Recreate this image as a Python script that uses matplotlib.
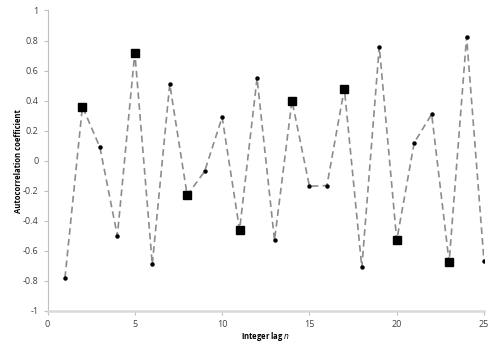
import matplotlib.pyplot as plt
import numpy as np

# autocorrelation coefficient per integer lag
lags = list(range(1, 26))
coeffs = [-0.78, 0.36, 0.09, -0.50, 0.72, -0.69, 0.51, -0.23, -0.07, 0.29,
          -0.46, 0.55, -0.53, 0.40, -0.17, -0.165, 0.48, -0.71, 0.76, -0.53,
          0.12, 0.31, -0.675, 0.825, -0.67]
# every third lag is highlighted with a square marker
square_lags = [2, 5, 8, 11, 14, 17, 20, 23]

plt.rcParams['font.family'] = ['Open Sans', 'DejaVu Sans']

fig = plt.figure(figsize=(4.98, 3.52), dpi=100)
ax = fig.add_axes([0.0954, 0.1165, 0.8766, 0.8537])

ax.plot(lags, coeffs, ls=(0, (4, 2.5)), color='#8c8c8c', lw=1.2, zorder=1)

dot_x = [l for l in lags if l not in square_lags]
dot_y = [coeffs[l - 1] for l in dot_x]
sq_y = [coeffs[l - 1] for l in square_lags]
ax.plot(dot_x, dot_y, ls='', marker='o', ms=2.2, color='black', zorder=2)
ax.plot(square_lags, sq_y, ls='', marker='s', ms=5.5, color='black', zorder=2)

ax.set_xlim(0, 25)
ax.set_ylim(-1, 1)
ax.set_xticks(np.arange(0, 26, 5))
ax.set_yticks(np.arange(-1, 1.01, 0.2))
ax.set_yticklabels(['-1', '-0.8', '-0.6', '-0.4', '-0.2', '0', '0.2', '0.4', '0.6', '0.8', '1'])

for s in ['top', 'right']:
    ax.spines[s].set_visible(False)
ax.spines['left'].set_color('#bfbfbf')
ax.spines['left'].set_linewidth(0.8)
ax.spines['bottom'].set_color('#d9d9d9')
ax.spines['bottom'].set_linewidth(1.8)
ax.tick_params(axis='both', colors='#bfbfbf', labelcolor='#404040', labelsize=6.5,
               length=3, width=0.8, direction='out')

ax.set_xlabel('Integer lag $\\mathit{n}$', fontsize=5.5, fontweight='bold', labelpad=0.5)
ax.set_ylabel('Autocorrelation coefficient', fontsize=5.5, fontweight='bold', labelpad=0)

fig.savefig('out.png', dpi=100)
